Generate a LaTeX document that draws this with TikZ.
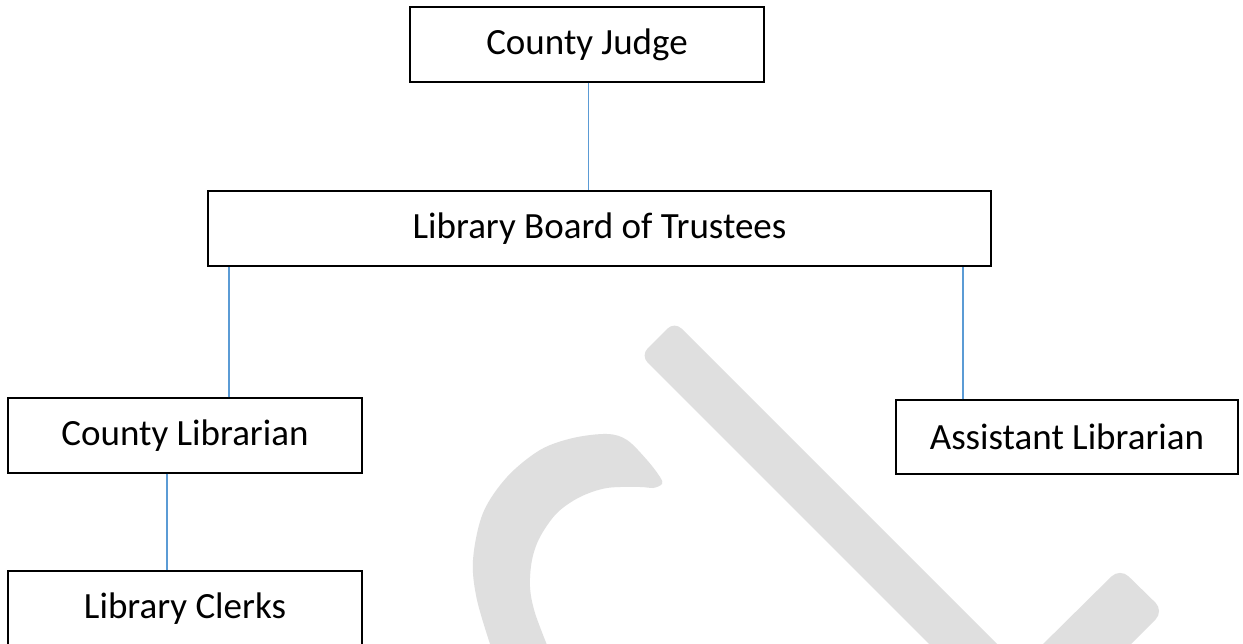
\documentclass[tikz,border=0pt]{standalone}
\usepackage{fontspec}
\setmainfont{Carlito}
\begin{document}
\begin{tikzpicture}[x=1pt,y=-1pt,
  orgbox/.style={draw=black, line width=1.2pt, fill=white, inner sep=0pt,
    minimum height=75pt, font=\fontsize{37}{44}\selectfont},
  conn/.style={draw={rgb,255:red,91;green,155;blue,213}, line width=1.1pt},
  logofill/.style={fill={rgb,255:red,223;green,223;blue,223}, draw=none}
]
\useasboundingbox (0,0) rectangle (1243,644);
\clip (0,0) rectangle (1243,644);
\fill[white] (0,0) rectangle (1243,644);

% background logo strokes
\fill[logofill, rounded corners=10pt] (674.5,321.5) -- (1007,654) -- (939,654) -- (640.5,355.5) -- cycle;
\fill[logofill, rounded corners=12pt] (1120,568) -- (1164,611) -- (1121,654) -- (1033,654) -- cycle;
\fill[logofill] plot[smooth, tension=0.55] coordinates {(492,650) (477,600) (473,560) (483,513) (507,477) (540,450) (573,438) (607,434) (627,440) (647,460) (660,477) (662,484) (653,488) (640,487) (607,488) (580,497) (557,513) (540,537) (532,560) (530,587) (535,613) (549,650)} -- cycle;

% organisation chart
\node[orgbox, minimum width=354pt] (judge)  at (587,44.5)   {County Judge};
\node[orgbox, minimum width=783pt] (board)  at (599.5,228.5) {Library Board of Trustees};
\node[orgbox, minimum width=354pt] (libr)   at (185,435.5)  {County Librarian};
\node[orgbox, minimum width=342pt, minimum height=74pt] (asst) at (1067,437) {Assistant Librarian};
\node[orgbox, minimum width=354pt] (clerks) at (185,608.5)  {Library Clerks};

\draw[conn] ([xshift=1.5pt]judge.south) -- ([xshift=1.5pt]judge.south |- board.north);
\draw[conn] ([xshift=44pt]libr.north) -- ([xshift=44pt]libr.north |- board.south);
\draw[conn] ([xshift=-104pt]asst.north) -- ([xshift=-104pt]asst.north |- board.south);
\draw[conn] ([xshift=-18pt]libr.south) -- ([xshift=-18pt]libr.south |- clerks.north);
\end{tikzpicture}
\end{document}
